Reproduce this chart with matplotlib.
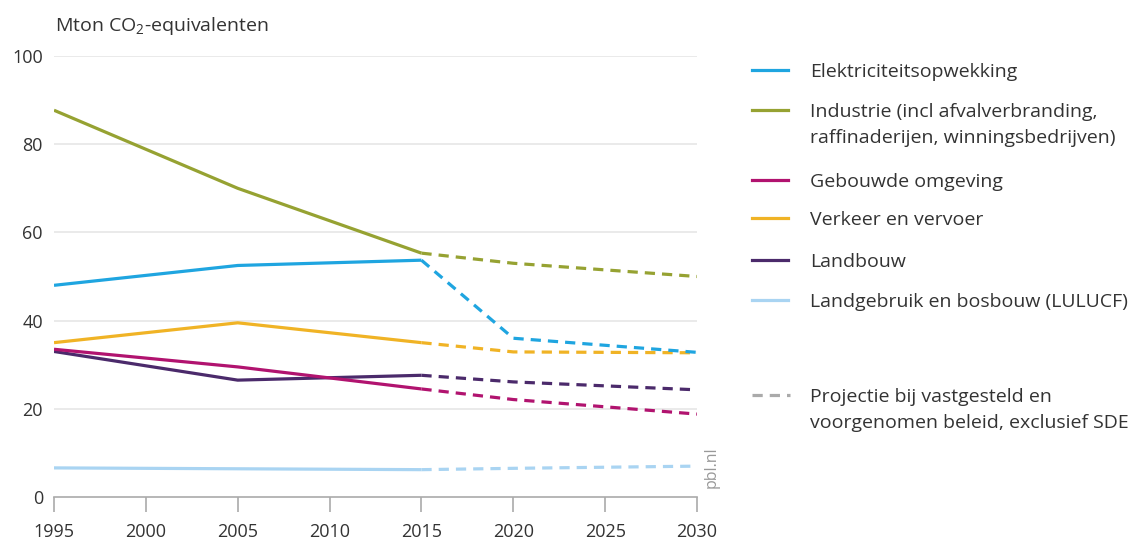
import matplotlib
matplotlib.use('Agg')
from matplotlib import pyplot as plt
from matplotlib.lines import Line2D

plt.rcParams['font.family'] = ['Open Sans', 'DejaVu Sans']
plt.rcParams['mathtext.fontset'] = 'custom'
plt.rcParams['mathtext.rm'] = 'Open Sans'
plt.rcParams['mathtext.it'] = 'Open Sans'

# jaren: historisch en projectie
jarenHist = [1995, 2005, 2015]
jarenProj = [2015, 2020, 2030]

# emissies per sector (Mton CO2-eq)
elektriciteitHist = [48.0, 52.5, 53.7]
elektriciteitProj = [53.7, 36.0, 32.8]
industrieHist = [87.7, 70.0, 55.3]
industrieProj = [55.3, 53.0, 50.0]
gebouwdeHist = [33.5, 29.5, 24.5]
gebouwdeProj = [24.5, 22.1, 18.8]
verkeerHist = [35.0, 39.5, 35.0]
verkeerProj = [35.0, 32.9, 32.7]
landbouwHist = [33.0, 26.5, 27.6]
landbouwProj = [27.6, 26.1, 24.3]
lulucfHist = [6.6, 6.4, 6.2]
lulucfProj = [6.2, 6.5, 7.0]

sectoren = ['Elektriciteitsopwekking',
            'Industrie (incl afvalverbranding,\nraffinaderijen, winningsbedrijven)',
            'Gebouwde omgeving',
            'Verkeer en vervoer',
            'Landbouw',
            'Landgebruik en bosbouw (LULUCF)']
kleuren = ['#1fa5e0', '#96a232', '#b1136f', '#f0b325', '#4b2a6b', '#a9d4f2']
hist = [elektriciteitHist, industrieHist, gebouwdeHist, verkeerHist, landbouwHist, lulucfHist]
proj = [elektriciteitProj, industrieProj, gebouwdeProj, verkeerProj, landbouwProj, lulucfProj]
# volgorde van tekenen (onderste eerst)
volgorde = [5, 4, 2, 3, 0, 1]

W, H = 1146, 542
fig = plt.figure(figsize=(W / 100, H / 100), dpi=100)
ax = fig.add_axes([54 / W, 1 - 497 / H, (697 - 54) / W, (497 - 56) / H])

for i in volgorde:
    ax.plot(jarenHist, hist[i], color=kleuren[i], lw=2.3, solid_capstyle='butt', zorder=3)
    ax.plot(jarenProj, proj[i], color=kleuren[i], lw=2.3, ls=(0, (3.2, 2.2)), zorder=3)

ax.set_xlim(1995, 2030)
ax.set_ylim(0, 100)
ax.set_yticks([0, 20, 40, 60, 80, 100])
ax.set_xticks(range(1995, 2031, 5))
for y in [20, 40, 60, 80, 100]:
    ax.axhline(y, color='#e6e6e6', lw=1.2, zorder=1)
for s in ['top', 'right', 'left']:
    ax.spines[s].set_visible(False)
ax.spines['bottom'].set_color('#aaaaaa')
ax.spines['bottom'].set_linewidth(1.2)
ax.tick_params(axis='x', length=11, width=1.2, color='#aaaaaa', direction='out',
               labelsize=13, labelcolor='#333333', pad=8)
ax.tick_params(axis='y', length=0, labelsize=13, labelcolor='#333333', pad=8)

fig.text(55 / W, 1 - 26 / H, 'Mton CO$_2$-equivalenten', fontsize=14, color='#333333',
         va='center', ha='left')
fig.text(712 / W, 1 - 467 / H, 'pbl.nl', rotation=90, fontsize=11.5, color='#999999',
         va='center', ha='center')

# legenda
tekstgrootte = 14
legY = [70, 110, 180, 218, 260, 300]
for i in range(len(sectoren)):
    yf = 1 - legY[i] / H
    fig.add_artist(Line2D([752 / W, 788 / W], [yf, yf], color=kleuren[i], lw=2.3,
                          transform=fig.transFigure))
    fig.text(810 / W, 1 - (legY[i] - 7) / H, sectoren[i], fontsize=tekstgrootte,
             color='#333333', va='top', ha='left', linespacing=1.6)
yf = 1 - 395 / H
fig.add_artist(Line2D([752 / W, 790 / W], [yf, yf], color='#aaaaaa', lw=2.3,
                      ls=(0, (3.2, 2.2)), transform=fig.transFigure))
fig.text(810 / W, 1 - (395 - 7) / H, 'Projectie bij vastgesteld en\nvoorgenomen beleid, exclusief SDE',
         fontsize=tekstgrootte, color='#333333', va='top', ha='left', linespacing=1.6)

plt.savefig('out.png', dpi=100)
plt.close()
